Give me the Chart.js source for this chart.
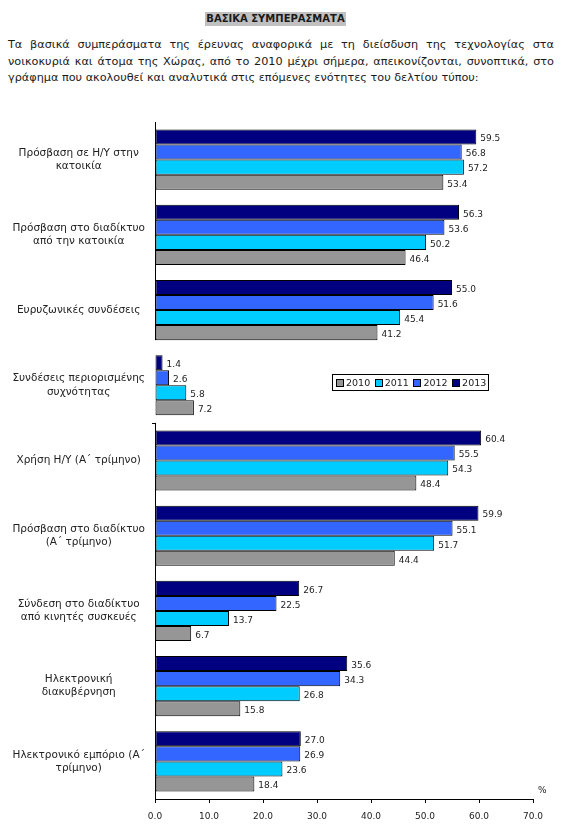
<!DOCTYPE html>
<html>
<head>
<meta charset="utf-8">
<script src="https://cdn.jsdelivr.net/npm/chart.js@4"></script>
<style>
  body { margin: 0; background: #fff; width: 562px; height: 840px; position: relative; font-family: "DejaVu Sans", sans-serif; color: #1a1a1a; }
  .title { position: absolute; left: 205px; top: 12px; width: 141px; height: 14px; background: #c0c0c0; font-weight: bold; font-size: 10px; line-height: 14px; text-align: center; white-space: nowrap; }
  .para { position: absolute; left: 8px; top: 37px; width: 546px; font-size: 11.25px; line-height: 16.5px; }
  .para div { text-align: justify; text-align-last: justify; white-space: nowrap; }
  .para div.last { text-align-last: left; }
  #chart { position: absolute; left: 0; top: 110px; }
  .legend { position: absolute; left: 332px; top: 374px; width: 155px; height: 15px; border: 1px solid #000; font-size: 9.5px; line-height: 15px; }
  .legend span { position: absolute; top: 0; }
  .legend i { position: absolute; top: 4px; width: 6px; height: 6px; border: 1px solid #000; }
  .pct { position: absolute; left: 538px; top: 785px; font-size: 9px; }
</style>
</head>
<body>
<div class="title">ΒΑΣΙΚΑ ΣΥΜΠΕΡΑΣΜΑΤΑ</div>
<div class="para">
  <div>Τα βασικά συμπεράσματα της έρευνας αναφορικά με τη διείσδυση της τεχνολογίας στα</div>
  <div>νοικοκυριά και άτομα της Χώρας, από το 2010 μέχρι σήμερα, απεικονίζονται, συνοπτικά, στο</div>
  <div class="last">γράφημα που ακολουθεί και αναλυτικά στις επόμενες ενότητες του δελτίου τύπου:</div>
</div>
<canvas id="chart" width="562" height="720"></canvas>
<div class="legend" id="legend"></div>
<div class="pct">%</div>
<script>
// categories, top to bottom
const categories = [
  ['Πρόσβαση σε Η/Υ στην', 'κατοικία'],
  ['Πρόσβαση στο διαδίκτυο', 'από την κατοικία'],
  ['Ευρυζωνικές συνδέσεις'],
  ['Συνδέσεις περιορισμένης', 'συχνότητας'],
  ['Χρήση Η/Υ (Α΄ τρίμηνο)'],
  ['Πρόσβαση στο διαδίκτυο', '(Α΄ τρίμηνο)'],
  ['Σύνδεση στο διαδίκτυο', 'από κινητές συσκευές'],
  ['Ηλεκτρονική', 'διακυβέρνηση'],
  ['Ηλεκτρονικό εμπόριο (Α΄', 'τρίμηνο)']
];
const years = ['2010', '2011', '2012', '2013'];
const values2010 = [53.4, 46.4, 41.2, 7.2, 48.4, 44.4, 6.7, 15.8, 18.4];
const values2011 = [57.2, 50.2, 45.4, 5.8, 54.3, 51.7, 13.7, 26.8, 23.6];
const values2012 = [56.8, 53.6, 51.6, 2.6, 55.5, 55.1, 22.5, 34.3, 26.9];
const values2013 = [59.5, 56.3, 55.0, 1.4, 60.4, 59.9, 26.7, 35.6, 27.0];
const xTicks = [0, 10, 20, 30, 40, 50, 60, 70];

const colors = { '2010': '#969696', '2011': '#00ccff', '2012': '#3366ff', '2013': '#000080' };
const labelFont = '10.5px "DejaVu Sans"';

// widest category line, so the centred labels sit where the original ones do
const mctx = document.createElement('canvas').getContext('2d');
mctx.font = labelFont;
let widest = 0;
categories.forEach(c => c.forEach(l => { widest = Math.max(widest, mctx.measureText(l).width); }));
const labelPad = Math.max(2, 155 - 92 - widest / 2);

// values next to each bar
const barLabels = {
  id: 'barLabels',
  afterDatasetsDraw(chart) {
    const ctx = chart.ctx;
    ctx.save();
    ctx.font = '9px "DejaVu Sans"';
    ctx.fillStyle = '#222';
    ctx.textBaseline = 'middle';
    chart.data.datasets.forEach((ds, i) => {
      chart.getDatasetMeta(i).data.forEach((bar, j) => {
        ctx.fillText(ds.data[j].toFixed(1), bar.x + 4, bar.y + 2);
      });
    });
    ctx.restore();
  }
};

// left axis line, broken around the 4th group like the original
const yAxisLine = {
  id: 'yAxisLine',
  afterDraw(chart) {
    const y = chart.scales.y;
    const x0 = chart.chartArea.left;
    const step = y.getPixelForValue(1) - y.getPixelForValue(0);
    const gapTop = y.getPixelForValue(2) + step * 0.4;
    const gapBottom = y.getPixelForValue(3) + step / 2;
    const ctx = chart.ctx;
    ctx.save();
    ctx.strokeStyle = '#000';
    ctx.lineWidth = 1;
    ctx.beginPath();
    ctx.moveTo(x0 + 0.5, chart.chartArea.top);
    ctx.lineTo(x0 + 0.5, gapTop);
    ctx.moveTo(x0 + 0.5, gapBottom);
    ctx.lineTo(x0 + 0.5, chart.chartArea.bottom);
    ctx.moveTo(x0 - 3, Math.round(gapBottom) + 0.5);
    ctx.lineTo(x0 + 0.5, Math.round(gapBottom) + 0.5);
    ctx.stroke();
    ctx.restore();
  }
};

function ds(year, data) {
  return {
    label: year,
    data: data,
    backgroundColor: colors[year],
    borderColor: '#000',
    borderWidth: 1,
    borderSkipped: false,
    categoryPercentage: 0.8,
    barPercentage: 1.0
  };
}

new Chart(document.getElementById('chart'), {
  type: 'bar',
  data: {
    labels: categories,
    datasets: [ds('2013', values2013), ds('2012', values2012), ds('2011', values2011), ds('2010', values2010)]
  },
  options: {
    indexAxis: 'y',
    responsive: false,
    animation: false,
    layout: { padding: { top: 12, right: 29, bottom: 1, left: 0 } },
    plugins: { legend: { display: false }, tooltip: { enabled: false } },
    scales: {
      x: {
        min: 0, max: 70,
        afterBuildTicks(scale) { scale.ticks = xTicks.map(v => ({ value: v })); },
        afterFit(scale) { scale.height = 30; scale.paddingLeft = 0; scale.paddingRight = 0; },
        grid: { drawOnChartArea: false, drawTicks: true, tickLength: 4, color: '#000' },
        border: { display: true, color: '#000' },
        ticks: {
          padding: 8,
          color: '#222',
          font: { family: 'DejaVu Sans', size: 9 },
          callback: v => Number(v).toFixed(1)
        }
      },
      y: {
        afterFit(scale) { scale.width = 155; scale.paddingTop = 0; scale.paddingBottom = 0; },
        grid: { display: false },
        border: { display: false },
        ticks: {
          crossAlign: 'center',
          padding: labelPad,
          color: '#222',
          autoSkip: false,
          font: { family: 'DejaVu Sans', size: 10.5, lineHeight: 1.25 }
        }
      }
    }
  },
  plugins: [barLabels, yAxisLine]
});

// legend box inside the plot, as in the original
const legend = document.getElementById('legend');
years.forEach((y, i) => {
  const left = 3 + i * 38.7;
  legend.insertAdjacentHTML('beforeend',
    `<i style="left:${left}px;background:${colors[y]}"></i><span style="left:${left + 10}px">${y}</span>`);
});
</script>
</body>
</html>
